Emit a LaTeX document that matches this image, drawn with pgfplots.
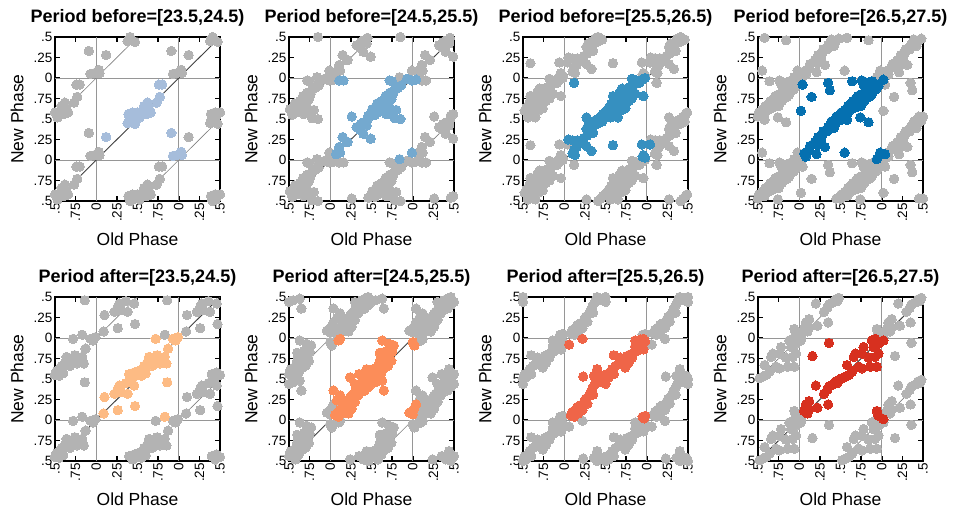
\documentclass[border=0pt]{standalone}
\usepackage{fontspec}
\setmainfont{Liberation Sans}
\usepackage{pgfplots}
\pgfplotsset{compat=1.18}
\usepackage{pgfplotstable}

\definecolor{cA}{RGB}{166,189,219}
\definecolor{cB}{RGB}{116,169,207}
\definecolor{cC}{RGB}{54,144,192}
\definecolor{cD}{RGB}{5,112,176}
\definecolor{cE}{RGB}{253,187,132}
\definecolor{cF}{RGB}{252,141,89}
\definecolor{cG}{RGB}{239,101,72}
\definecolor{cH}{RGB}{215,48,31}
\definecolor{ptgray}{RGB}{179,179,179}
\definecolor{gridgray}{RGB}{150,150,150}

\pgfplotstableread{
x y
0.76 0.92
0.80 0.92
0.77 0.77
0.73 0.70
0.62 0.70
0.58 0.66
0.64 0.62
0.61 0.56
0.56 0.55
0.50 0.58
0.44 0.58
0.39 0.56
0.38 0.45
0.47 0.44
0.45 0.52
0.41 0.50
0.53 0.52
0.66 0.58
0.12 0.28
0.91 0.33
0.93 0.05
1.03 0.10
1.04 0.06
0.98 0.06
}\dA

\pgfplotstableread{
x y
0.11 0.97
0.16 0.97
0.72 0.97
0.75 0.96
0.93 0.99
1.04 0.98
0.99 0.97
0.86 0.91
0.82 0.88
0.78 0.86
0.76 0.80
0.72 0.82
0.70 0.76
0.67 0.78
0.66 0.72
0.63 0.72
0.61 0.68
0.57 0.69
0.56 0.64
0.60 0.63
0.64 0.66
0.70 0.69
0.74 0.74
0.55 0.60
0.51 0.62
0.49 0.56
0.54 0.55
0.58 0.58
0.62 0.60
0.66 0.62
0.72 0.64
0.80 0.61
0.76 0.56
0.78 0.51
0.85 0.50
0.68 0.56
0.46 0.54
0.45 0.49
0.41 0.46
0.37 0.44
0.26 0.53
0.32 0.40
0.36 0.37
0.40 0.32
0.44 0.42
0.49 0.26
0.15 0.28
0.21 0.22
0.11 0.16
0.09 0.10
0.07 0.07
0.12 0.09
0.84 0.01
0.99 0.09
}\dB

\pgfplotstableread{
x y
0.12 0.94
0.82 0.99
0.88 0.97
0.94 0.98
0.98 1.00
0.91 0.94
0.84 0.92
0.80 0.89
0.76 0.87
0.73 0.84
0.70 0.87
0.79 0.82
0.72 0.79
0.67 0.82
0.66 0.77
0.63 0.75
0.60 0.73
0.59 0.78
0.96 0.78
0.86 0.81
0.82 0.75
0.70 0.71
0.62 0.69
0.57 0.68
0.56 0.63
0.52 0.60
0.49 0.58
0.54 0.64
0.60 0.62
0.66 0.65
0.73 0.68
0.78 0.72
0.74 0.63
0.68 0.60
0.62 0.56
0.65 0.52
0.47 0.56
0.44 0.53
0.41 0.50
0.37 0.48
0.35 0.45
0.33 0.43
0.29 0.42
0.27 0.38
0.27 0.52
0.31 0.36
0.35 0.33
0.28 0.30
0.24 0.27
0.20 0.22
0.05 0.25
0.10 0.24
0.16 0.24
0.27 0.17
0.33 0.11
0.15 0.16
0.12 0.12
0.10 0.08
0.13 0.06
0.59 0.18
0.94 0.19
0.96 0.06
0.95 0.04
0.98 0.03
1.04 0.19
0.40 0.44
0.46 0.47
0.56 0.52
}\dC

\pgfplotstableread{
x y
0.04 0.92
0.15 0.77
0.02 0.60
0.35 0.94
0.37 0.85
0.64 0.96
0.76 0.97
0.80 0.95
0.85 0.93
0.88 0.96
0.92 0.93
1.02 0.98
0.96 0.90
0.90 0.89
0.83 0.89
0.78 0.92
0.80 0.85
0.87 0.85
0.93 0.86
0.82 0.81
0.75 0.80
0.85 0.77
0.71 0.78
0.69 0.74
0.79 0.72
0.65 0.72
0.63 0.68
0.59 0.66
0.68 0.64
0.75 0.66
0.62 0.61
0.55 0.61
0.51 0.58
0.58 0.56
0.50 0.53
0.45 0.53
0.48 0.48
0.44 0.45
0.39 0.47
0.37 0.42
0.35 0.40
0.42 0.39
0.34 0.35
0.29 0.35
0.28 0.30
0.23 0.28
0.26 0.24
0.19 0.22
0.17 0.19
0.22 0.18
0.13 0.17
0.12 0.13
0.09 0.10
0.06 0.08
0.08 0.04
0.21 0.07
0.31 0.16
0.55 0.09
0.74 0.52
0.84 0.46
0.58 0.49
0.94 0.01
0.98 0.09
1.04 0.07
0.70 0.70
0.88 0.80
}\dD

\pgfplotstableread{
x y
0.72 0.99
0.93 0.99
0.99 1.01
0.96 0.97
0.87 0.87
0.83 0.77
0.77 0.69
0.85 0.69
0.64 0.77
0.62 0.70
0.58 0.66
0.56 0.62
0.52 0.60
0.46 0.58
0.40 0.56
0.44 0.52
0.50 0.55
0.55 0.54
0.60 0.57
0.68 0.66
0.86 0.46
0.46 0.42
0.36 0.45
0.28 0.42
0.26 0.38
0.30 0.34
0.22 0.32
0.38 0.32
0.10 0.28
0.26 0.12
0.47 0.17
0.09 0.08
0.83 0.04
0.70 0.72
0.74 0.79
}\dE

\pgfplotstableread{
x y
0.10 0.97
0.12 0.99
0.63 0.97
0.71 0.93
0.77 0.91
0.75 0.83
1.00 0.95
1.02 0.91
0.72 0.88
0.68 0.84
0.66 0.80
0.70 0.78
0.64 0.74
0.60 0.72
0.62 0.68
0.58 0.66
0.56 0.62
0.52 0.62
0.54 0.58
0.50 0.56
0.48 0.54
0.44 0.56
0.46 0.50
0.42 0.48
0.40 0.52
0.38 0.46
0.36 0.44
0.40 0.42
0.34 0.40
0.32 0.38
0.36 0.36
0.30 0.34
0.28 0.32
0.26 0.30
0.24 0.27
0.22 0.25
0.20 0.22
0.18 0.20
0.16 0.18
0.20 0.16
0.14 0.14
0.12 0.12
0.10 0.10
0.08 0.08
0.06 0.06
0.10 0.04
0.14 0.08
0.18 0.10
0.22 0.08
0.26 0.14
0.30 0.22
0.24 0.52
0.30 0.44
0.35 0.56
0.04 0.36
0.08 0.24
0.63 0.48
0.65 0.36
0.55 0.46
0.58 0.52
0.62 0.58
0.66 0.64
0.70 0.66
0.74 0.72
0.50 0.44
0.46 0.40
0.42 0.36
0.96 0.09
1.00 0.07
1.04 0.19
1.01 0.13
0.12 0.30
0.34 0.30
0.44 0.62
0.60 0.82
}\dF

\pgfplotstableread{
x y
0.06 0.92
0.22 0.99
0.86 0.97
0.92 0.98
0.96 0.99
0.98 0.96
0.94 0.94
0.90 0.92
0.86 0.90
0.92 0.88
0.96 0.86
0.88 0.84
0.84 0.82
0.80 0.80
0.82 0.76
0.76 0.78
0.72 0.74
0.78 0.70
0.70 0.70
0.60 0.79
0.66 0.68
0.62 0.66
0.58 0.62
0.56 0.58
0.52 0.56
0.48 0.54
0.44 0.52
0.40 0.50
0.38 0.46
0.42 0.46
0.46 0.48
0.50 0.50
0.54 0.52
0.40 0.62
0.36 0.54
0.23 0.53
0.36 0.42
0.34 0.38
0.32 0.34
0.30 0.30
0.35 0.31
0.26 0.26
0.24 0.22
0.20 0.18
0.16 0.16
0.14 0.12
0.10 0.10
0.08 0.06
0.12 0.04
0.17 0.08
0.22 0.12
0.28 0.20
0.95 0.04
0.97 0.02
0.98 0.05
0.68 0.76
0.74 0.64
0.60 0.56
0.50 0.44
}\dG

\pgfplotstableread{
x y
0.36 0.94
0.16 0.78
0.88 0.97
0.92 0.99
1.02 0.97
0.96 0.93
0.90 0.89
0.96 0.81
0.92 0.77
0.78 0.89
0.76 0.81
0.68 0.81
0.66 0.77
0.58 0.67
0.72 0.65
0.76 0.63
0.86 0.65
0.94 0.65
0.60 0.55
0.56 0.53
0.48 0.49
0.44 0.47
0.40 0.43
0.36 0.41
0.34 0.37
0.46 0.45
0.52 0.51
0.64 0.59
0.20 0.42
0.12 0.23
0.08 0.19
0.06 0.11
0.12 0.13
0.22 0.15
0.35 0.19
0.10 0.08
0.94 0.11
0.96 0.05
1.02 0.01
0.84 0.76
0.30 0.32
}\dH

\pgfplotsset{
  phase/.style={
    scale only axis, width=165pt, height=164pt,
    anchor=south west,
    xmin=-0.5, xmax=1.5, ymin=-0.5, ymax=1.5,
    xtick={-0.5,-0.25,0,0.25,0.5,0.75,1,1.25,1.5},
    ytick={-0.5,-0.25,0,0.25,0.5,0.75,1,1.25,1.5},
    xticklabels={.5,.75,0,.25,.5,.75,0,.25,.5},
    yticklabels={.5,.75,0,.25,.5,.75,0,.25,.5},
    tick align=inside, tick pos=both,
    xticklabel pos=bottom, yticklabel pos=left,
    major tick length=5pt,
    axis line style={line width=1.9pt},
    every outer x axis line/.append style={line width=1.9pt},
    every outer y axis line/.append style={line width=1.9pt},
    every tick/.style={black, line width=1.5pt},
    tick label style={font=\fontsize{13.5}{16}\selectfont},
    xticklabel style={rotate=90, anchor=east, inner sep=2pt},
    yticklabel style={anchor=east, inner sep=2.5pt},
    title style={at={(axis description cs:0.5,1)}, anchor=south, inner sep=0pt, yshift=5pt,
      font=\bfseries\fontsize{18}{20}\selectfont},
    xlabel={Old Phase}, ylabel={New Phase},
    label style={font=\fontsize{17.5}{20}\selectfont, inner sep=0pt},
    xlabel style={at={(axis description cs:0.5,-0.19)}, anchor=north},
    ylabel style={at={(axis description cs:-0.19,0.5)}, anchor=south, rotate=0},
  },
  gpt/.style={only marks, mark=*, mark size=4.7pt,
    mark options={fill=ptgray, draw=ptgray, line width=0pt},
    restrict x to domain=-0.5:1.5, restrict y to domain=-0.5:1.5},
}

\newcommand{\tiles}[1]{%
  \addplot[gpt] table[x expr=\thisrow{x}-1, y expr=\thisrow{y}-1] {#1};
  \addplot[gpt] table[x expr=\thisrow{x},   y expr=\thisrow{y}-1] {#1};
  \addplot[gpt] table[x expr=\thisrow{x}+1, y expr=\thisrow{y}-1] {#1};
  \addplot[gpt] table[x expr=\thisrow{x}-1, y expr=\thisrow{y}] {#1};
  \addplot[gpt] table[x expr=\thisrow{x}+1, y expr=\thisrow{y}] {#1};
  \addplot[gpt] table[x expr=\thisrow{x}-1, y expr=\thisrow{y}+1] {#1};
  \addplot[gpt] table[x expr=\thisrow{x},   y expr=\thisrow{y}+1] {#1};
  \addplot[gpt] table[x expr=\thisrow{x}+1, y expr=\thisrow{y}+1] {#1};
}

\newcommand{\panel}[5]{%
\begin{axis}[phase, at={(#1pt,#2pt)}, title={#3}]
  \addplot[no marks, gridgray, line width=0.9pt] coordinates {(0,-0.5) (0,1.5)};
  \addplot[no marks, gridgray, line width=0.9pt] coordinates {(1,-0.5) (1,1.5)};
  \addplot[no marks, gridgray, line width=0.9pt] coordinates {(-0.5,0) (1.5,0)};
  \addplot[no marks, gridgray, line width=0.9pt] coordinates {(-0.5,1) (1.5,1)};
  \tiles{#5}
  \addplot[only marks, mark=*, mark size=4.7pt,
    mark options={fill=#4, draw=#4, line width=0pt}] table {#5};
  \addplot[no marks, black!75, line width=0.9pt] coordinates {(-0.5,-0.5) (1.5,1.5)};
  \addplot[no marks, black!50, line width=0.6pt] coordinates {(-0.5,0.5) (0.5,1.5)};
  \addplot[no marks, black!50, line width=0.6pt] coordinates {(0.5,-0.5) (1.5,0.5)};
\end{axis}}

\begin{document}
\begin{tikzpicture}
\path[use as bounding box] (0pt,0pt) rectangle (954pt,507pt);
\panel{55}{306}{Period before=[23.5,24.5)}{cA}{\dA}
\panel{289}{306}{Period before=[24.5,25.5)}{cB}{\dB}
\panel{523}{306}{Period before=[25.5,26.5)}{cC}{\dC}
\panel{758}{306}{Period before=[26.5,27.5)}{cD}{\dD}
\panel{55}{46}{Period after=[23.5,24.5)}{cE}{\dE}
\panel{289}{46}{Period after=[24.5,25.5)}{cF}{\dF}
\panel{523}{46}{Period after=[25.5,26.5)}{cG}{\dG}
\panel{758}{46}{Period after=[26.5,27.5)}{cH}{\dH}
\end{tikzpicture}
\end{document}
